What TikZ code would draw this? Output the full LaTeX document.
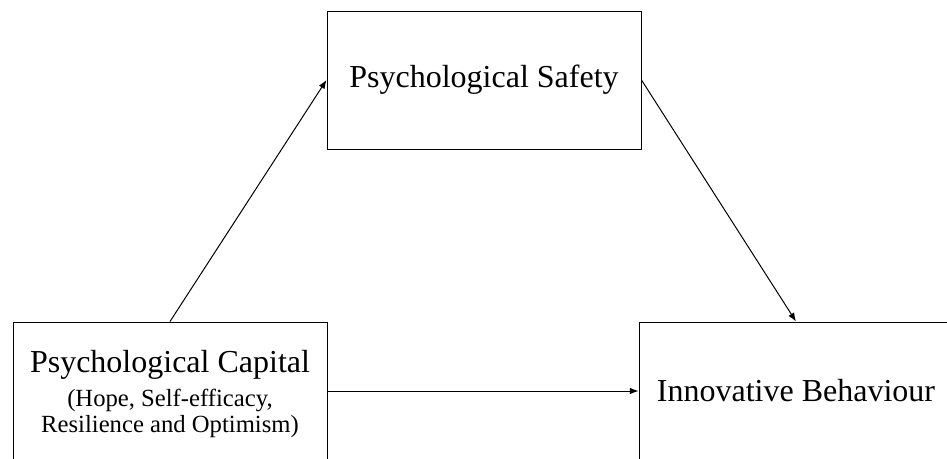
\documentclass[tikz,border=0pt]{standalone}
\usepackage{fontspec}
\setmainfont{Liberation Serif}
\usetikzlibrary{arrows.meta}
\tikzset{
    varbox/.style={draw, line width=0.75pt, minimum width=235.5pt, minimum height=103.5pt, inner sep=0pt, align=center, font=\fontsize{24}{28}\selectfont},
    subtext/.style={align=center, inner sep=0pt, font=\fontsize{24}{28}\selectfont},
    link/.style={line width=0.75pt, -{Latex[length=6.5pt,width=5pt]}}
}
\begin{document}
\begin{tikzpicture}[x=0.75pt,y=-0.75pt]
    \useasboundingbox (0,0) rectangle (947,458);
    \clip (0,0) rectangle (947,458);
    \node[varbox] (safe) at (484,80) {Psychological Safety};
    \node[varbox] (cap) at (170,391) {};
    \node[subtext] (captext) at (170,394.5) {Psychological Capital\\[-3pt]{\fontsize{18.5}{20}\selectfont (Hope, Self-efficacy,}\\[-8pt]{\fontsize{18.5}{20}\selectfont Resilience and Optimism)}};
    \node[varbox] (behav) at (796,391) {Innovative Behaviour};
    \draw[link] (cap.north) -- (safe.west);
    \draw[link] (safe.east) -- (behav.north);
    \draw[link] (cap.east) -- (behav.west);
\end{tikzpicture}
\end{document}
